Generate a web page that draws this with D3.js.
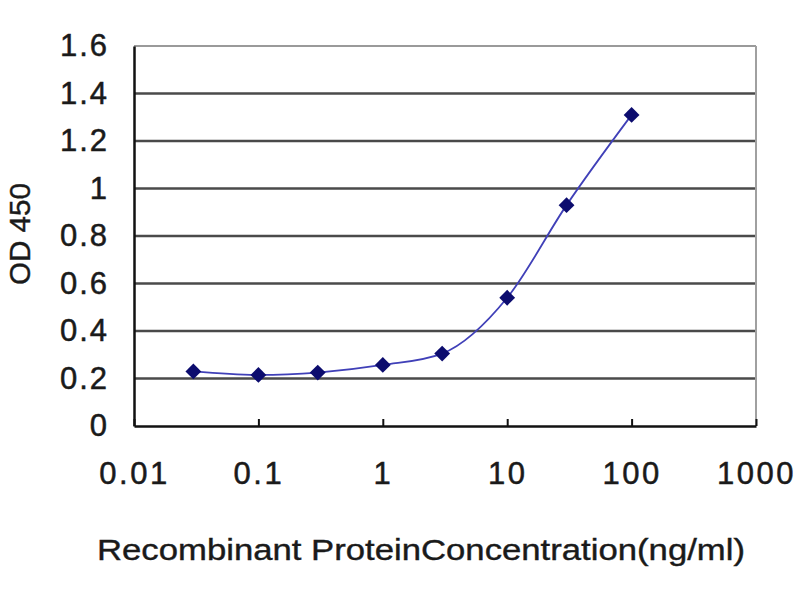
<!DOCTYPE html>
<html>
<head>
<meta charset="utf-8">
<script src="https://cdn.jsdelivr.net/npm/d3@7"></script>
<style>
  html, body { margin: 0; padding: 0; background: #fff; }
  text { font-family: "Liberation Sans", Arial, sans-serif; fill: #1a1a1a; }
</style>
</head>
<body>
<svg id="chart" width="800" height="600"></svg>
<script>
// ---- data ----
const concentrations = [0.03, 0.1, 0.3, 1, 3, 10, 30, 100];
const odValues = [0.23, 0.215, 0.225, 0.257, 0.305, 0.54, 0.93, 1.31];
const xTickValues = [0.01, 0.1, 1, 10, 100, 1000];
const xTickLabels = ["0.01", "0.1", "1", "10", "100", "1000"];
const yTickValues = [0, 0.2, 0.4, 0.6, 0.8, 1, 1.2, 1.4, 1.6];
const xTitle = "Recombinant  ProteinConcentration(ng/ml)";
const yTitle = "OD 450";

// ---- layout ----
const plotLeft = 134, plotRight = 756, plotTop = 46, plotBottom = 426;
const svg = d3.select("#chart");

const x = d3.scaleLog().domain([0.01, 1000]).range([plotLeft, plotRight]);
const y = d3.scaleLinear().domain([0, 1.6]).range([plotBottom, plotTop]);

// gridlines
const grid = svg.append("g");
grid.selectAll("line")
  .data(yTickValues.filter(v => v > 0 && v < 1.6))
  .join("line")
  .attr("x1", plotLeft).attr("x2", plotRight)
  .attr("y1", d => y(d)).attr("y2", d => y(d))
  .attr("stroke", "#4a4a4a").attr("stroke-width", 2.5);

// top & right border (light gray)
svg.append("line").attr("x1", plotLeft).attr("x2", plotRight).attr("y1", y(1.6)).attr("y2", y(1.6))
  .attr("stroke", "#9a9a9a").attr("stroke-width", 2);
svg.append("line").attr("x1", plotRight).attr("x2", plotRight).attr("y1", plotTop).attr("y2", plotBottom)
  .attr("stroke", "#a0a0a0").attr("stroke-width", 2);

// y axis
const yAxis = d3.axisLeft(y).tickValues(yTickValues).tickSize(0).tickPadding(25)
  .tickFormat(d => String(+d.toFixed(1)));
const gy = svg.append("g").attr("transform", `translate(${plotLeft},0)`).call(yAxis);
gy.select(".domain").attr("stroke", "#111").attr("stroke-width", 2.5);
gy.selectAll("text").attr("font-size", 31).attr("letter-spacing", 2)
  .attr("font-family", "Liberation Sans, Arial, sans-serif").attr("fill", "#1a1a1a")
  .attr("stroke", "#1a1a1a").attr("stroke-width", 0.5);

// x axis (ticks pointing inward)
const xAxis = d3.axisBottom(x).tickValues(xTickValues).tickSizeInner(-7).tickSizeOuter(0)
  .tickFormat((d, i) => xTickLabels[i]).tickPadding(36);
const gx = svg.append("g").attr("transform", `translate(0,${plotBottom})`).call(xAxis);
gx.select(".domain").attr("stroke", "#111").attr("stroke-width", 2.5);
gx.selectAll(".tick line").attr("stroke", "#111").attr("stroke-width", 2);
gx.selectAll("text").attr("font-size", 31).attr("letter-spacing", 2.5)
  .attr("font-family", "Liberation Sans, Arial, sans-serif").attr("fill", "#1a1a1a")
  .attr("stroke", "#1a1a1a").attr("stroke-width", 0.5);

// line
const data = concentrations.map((c, i) => ({ c, v: odValues[i] }));
const line = d3.line().x(d => x(d.c)).y(d => y(d.v)).curve(d3.curveMonotoneX);
svg.append("path").datum(data).attr("d", line)
  .attr("fill", "none").attr("stroke", "#4040b8").attr("stroke-width", 1.8);

// markers (diamonds)
const diamond = d3.symbol().type(d3.symbolSquare).size(125);
svg.append("g").selectAll("path").data(data).join("path")
  .attr("d", diamond)
  .attr("transform", d => `translate(${x(d.c)},${y(d.v)}) rotate(45)`)
  .attr("fill", "#0c0c6e");

// titles
svg.append("text").attr("x", 97).attr("y", 560).attr("font-size", 30)
  .attr("textLength", 648).attr("lengthAdjust", "spacingAndGlyphs")
  .attr("stroke", "#1a1a1a").attr("stroke-width", 0.4)
  .text(xTitle);
svg.append("text").attr("transform", "translate(30,234) rotate(-90)")
  .attr("text-anchor", "middle").attr("font-size", 30)
  .attr("textLength", 102).attr("lengthAdjust", "spacingAndGlyphs")
  .attr("stroke", "#1a1a1a").attr("stroke-width", 0.4)
  .text(yTitle);
</script>
</body>
</html>
